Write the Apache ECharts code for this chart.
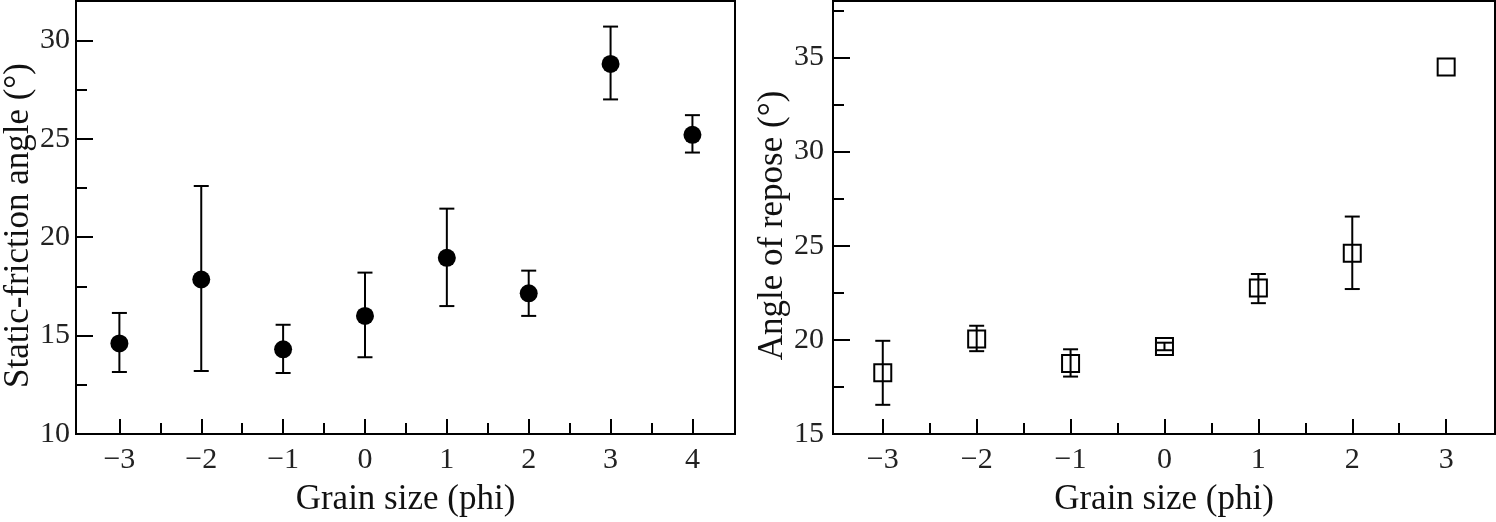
<!DOCTYPE html>
<html>
<head>
<meta charset="utf-8">
<script src="https://cdn.jsdelivr.net/npm/echarts@6/dist/echarts.min.js"></script>
<style>
  html, body { margin: 0; padding: 0; background: #fff; }
  #chart { width: 1496px; height: 522px; }
</style>
</head>
<body>
<div id="chart"></div>
<script>
// left panel: static-friction angle
const phiA = [-3, -2, -1, 0, 1, 2, 3, 4]
const frictionMean = [14.6, 17.85, 14.3, 16.0, 18.95, 17.15, 28.8, 25.2]
const frictionLow = [13.15, 13.2, 13.1, 13.9, 16.5, 16.0, 27.0, 24.3]
const frictionHigh = [16.15, 22.6, 15.55, 18.2, 21.45, 18.3, 30.7, 26.2]

// right panel: angle of repose (last point has no error bar)
const phiB = [-3, -2, -1, 0, 1, 2, 3]
const reposeMean = [18.25, 20.05, 18.75, 19.65, 22.75, 24.6, 34.5]
const reposeLow = [16.55, 19.4, 18.05, 19.45, 21.95, 22.7, null]
const reposeHigh = [19.95, 20.75, 19.5, 19.85, 23.5, 26.55, null]

// tick values
const xMajorA = [-3, -2, -1, 0, 1, 2, 3, 4]
const xMinorA = [-2.5, -1.5, -0.5, 0.5, 1.5, 2.5, 3.5]
const xMajorB = [-3, -2, -1, 0, 1, 2, 3]
const xMinorB = [-2.5, -1.5, -0.5, 0.5, 1.5, 2.5]
const yMajorA = [10, 15, 20, 25, 30]
const yMinorA = [12.5, 17.5, 22.5, 27.5]
const yMajorB = [15, 20, 25, 30, 35]
const yMinorB = [17.5, 22.5, 27.5, 32.5, 37.5]

const FONT = 'Liberation Serif'
const fmt = v => (v < 0 ? '\u2212' + Math.abs(v) : String(v))

function majorAxis(gridIndex, pos, min, max, ticks, len, extra) {
  return Object.assign({
    type: 'value',
    gridIndex,
    position: pos,
    min,
    max,
    axisLine: { show: false, onZero: false },
    splitLine: { show: false },
    axisTick: { inside: true, length: len, customValues: ticks, lineStyle: { color: '#000', width: 2 } },
    axisLabel: { customValues: ticks, formatter: fmt, fontFamily: FONT, fontSize: 30, color: '#222' }
  }, extra || {})
}

function minorAxis(gridIndex, pos, min, max, ticks) {
  return {
    type: 'value',
    gridIndex,
    position: pos,
    min,
    max,
    axisLine: { show: false, onZero: false },
    splitLine: { show: false },
    axisTick: { inside: true, length: 11, customValues: ticks, lineStyle: { color: '#000', width: 2 } },
    axisLabel: { show: false }
  }
}

function errorBars(xs, lows, highs, xIdx, yIdx) {
  const data = []
  xs.forEach((x, i) => {
    if (lows[i] != null) data.push([x, lows[i], highs[i]])
  })
  return {
    type: 'custom',
    xAxisIndex: xIdx,
    yAxisIndex: yIdx,
    data,
    encode: { x: 0, y: [1, 2] },
    z: 3,
    renderItem: (params, api) => {
      const top = api.coord([api.value(0), api.value(2)])
      const bot = api.coord([api.value(0), api.value(1)])
      const hw = 7.5
      const style = { stroke: '#000', lineWidth: 2 }
      return {
        type: 'group',
        children: [
          { type: 'line', shape: { x1: top[0], y1: top[1], x2: bot[0], y2: bot[1] }, style },
          { type: 'line', shape: { x1: top[0] - hw, y1: top[1], x2: top[0] + hw, y2: top[1] }, style },
          { type: 'line', shape: { x1: bot[0] - hw, y1: bot[1], x2: bot[0] + hw, y2: bot[1] }, style }
        ]
      }
    }
  }
}

const nameStyle = { fontFamily: FONT, fontSize: 35, color: '#111' }
// y titles sit a little below the plot centre in the reference
const yNameStyle = { fontFamily: FONT, fontSize: 35, color: '#111', padding: [0, 16, 0, 0] }

const chart = echarts.init(document.getElementById('chart'))
const option = {
  backgroundColor: '#fff',
  animation: false,
  grid: [
    { left: 73, top: 1, width: 662, bottom: 87, show: true, borderColor: '#000', borderWidth: 2, backgroundColor: 'transparent' },
    { left: 833, top: 1, width: 662, bottom: 87, show: true, borderColor: '#000', borderWidth: 2, backgroundColor: 'transparent' }
  ],
  xAxis: [
    majorAxis(0, 'bottom', -3.53, 4.52, xMajorA, 15, {
      name: 'Grain size (phi)', nameLocation: 'middle', nameGap: 48, nameTextStyle: nameStyle,
      axisLabel: { customValues: xMajorA, formatter: fmt, fontFamily: FONT, fontSize: 30, color: '#222', margin: 11 }
    }),
    minorAxis(0, 'bottom', -3.53, 4.52, xMinorA),
    majorAxis(1, 'bottom', -3.53, 3.52, xMajorB, 15, {
      name: 'Grain size (phi)', nameLocation: 'middle', nameGap: 48, nameTextStyle: nameStyle,
      axisLabel: { customValues: xMajorB, formatter: fmt, fontFamily: FONT, fontSize: 30, color: '#222', margin: 11 }
    }),
    minorAxis(1, 'bottom', -3.53, 3.52, xMinorB)
  ],
  yAxis: [
    majorAxis(0, 'left', 10, 32, yMajorA, 17, {
      name: 'Static-friction angle (\u00B0)', nameLocation: 'middle', nameGap: 40, nameTextStyle: yNameStyle,
      axisLabel: { customValues: yMajorA, formatter: fmt, fontFamily: FONT, fontSize: 30, color: '#222', margin: 6 }
    }),
    minorAxis(0, 'left', 10, 32, yMinorA),
    majorAxis(1, 'left', 15, 38, yMajorB, 17, {
      name: 'Angle of repose (\u00B0)', nameLocation: 'middle', nameGap: 39, nameTextStyle: yNameStyle,
      axisLabel: { customValues: yMajorB, formatter: fmt, fontFamily: FONT, fontSize: 30, color: '#222', margin: 9 }
    }),
    minorAxis(1, 'left', 15, 38, yMinorB)
  ],
  series: [
    errorBars(phiA, frictionLow, frictionHigh, 0, 0),
    {
      type: 'scatter',
      xAxisIndex: 0,
      yAxisIndex: 0,
      data: phiA.map((x, i) => [x, frictionMean[i]]),
      symbol: 'circle',
      symbolSize: 18,
      itemStyle: { color: '#000', opacity: 1 },
      z: 4
    },
    errorBars(phiB, reposeLow, reposeHigh, 2, 2),
    {
      type: 'scatter',
      xAxisIndex: 2,
      yAxisIndex: 2,
      data: phiB.map((x, i) => [x, reposeMean[i]]),
      symbol: 'rect',
      symbolSize: 17,
      itemStyle: { color: 'rgba(0,0,0,0)', borderColor: '#000', borderWidth: 2, opacity: 1 },
      z: 2
    }
  ]
}
chart.setOption(option)

window.addEventListener('resize', () => {
  chart.resize()
})
</script>
</body>
</html>
